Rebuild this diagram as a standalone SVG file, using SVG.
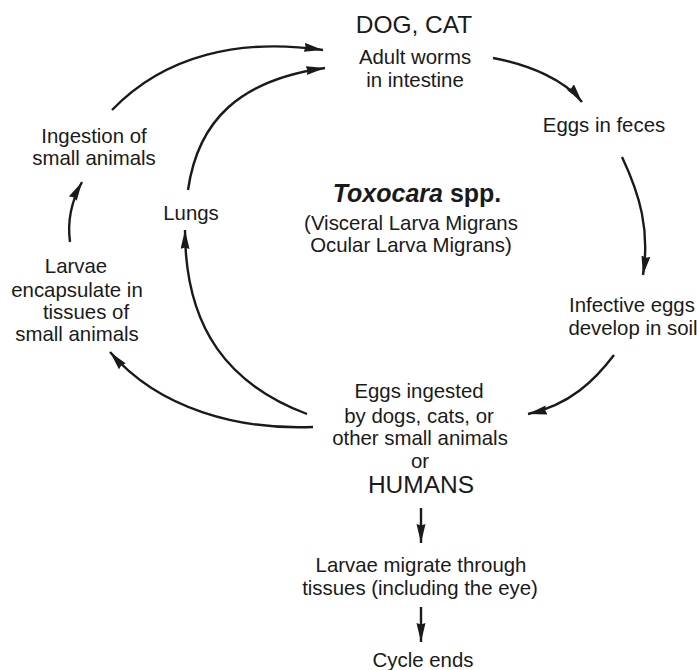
<svg xmlns="http://www.w3.org/2000/svg" width="697" height="670" viewBox="0 0 697 670">
<defs>
<marker id="ah" markerUnits="userSpaceOnUse" markerWidth="22" markerHeight="10" refX="19" refY="4.5" orient="auto">
<path d="M0,0 L19,4.5 L0,9 L1.5,4.5 z" fill="#1a1a1a"/>
</marker>
<style>
text{font-family:"Liberation Sans",Arial,Helvetica,sans-serif;fill:#1a1a1a;text-anchor:middle;font-size:20.4px}
.big{font-size:24.5px}
.title{font-size:25px;font-weight:bold}
.conn path{fill:none;stroke:#1a1a1a;stroke-width:2.4;marker-end:url(#ah)}
</style>
</defs>
<rect width="697" height="670" fill="#ffffff"/>
<g id="adult">
<text class="big" x="414" y="33">DOG, CAT</text>
<text x="415" y="64">Adult worms</text>
<text x="415" y="87">in intestine</text>
</g>
<g id="feces"><text x="604" y="132">Eggs in feces</text></g>
<g id="soil">
<text x="632" y="312">Infective eggs</text>
<text x="633" y="335">develop in soil</text>
</g>
<g id="ingested">
<text x="419" y="398">Eggs ingested</text>
<text x="419" y="423">by dogs, cats, or</text>
<text x="420" y="445">other small animals</text>
<text x="420" y="468">or</text>
<text class="big" x="421" y="493">HUMANS</text>
</g>
<g id="migrate">
<text x="421" y="572">Larvae migrate through</text>
<text x="420" y="595">tissues (including the eye)</text>
</g>
<g id="ends"><text x="423" y="667">Cycle ends</text></g>
<g id="lungs"><text x="191" y="220">Lungs</text></g>
<g id="ingestion">
<text x="94" y="143">Ingestion of</text>
<text x="94" y="165">small animals</text>
</g>
<g id="encapsulate">
<text x="76" y="273">Larvae</text>
<text x="77" y="297">encapsulate in</text>
<text x="86" y="319">tissues of</text>
<text x="77" y="341">small animals</text>
</g>
<g id="center">
<text class="title" x="417" y="202"><tspan font-style="italic">Toxocara</tspan> spp.</text>
<text x="411" y="230">(Visceral Larva Migrans</text>
<text x="411" y="252">Ocular Larva Migrans)</text>
</g>
<g class="conn" id="connectors">
<path d="M493,58 C530,65 565,80 582,102"/>
<path d="M622,157 C640,195 650,230 643,275"/>
<path d="M614,355 C595,380 570,405 528,414"/>
<path d="M421,508 L421,543"/>
<path d="M421,607 L421,642"/>
<path d="M307,414 C230,385 185,330 185,230"/>
<path d="M313,427 C240,430 160,410 110,352"/>
<path d="M70,242 C67,220 72,200 82,182"/>
<path d="M112,110 C165,55 240,38 323,50"/>
<path d="M188,190 C198,120 240,80 325,68"/>
</g>
</svg>
